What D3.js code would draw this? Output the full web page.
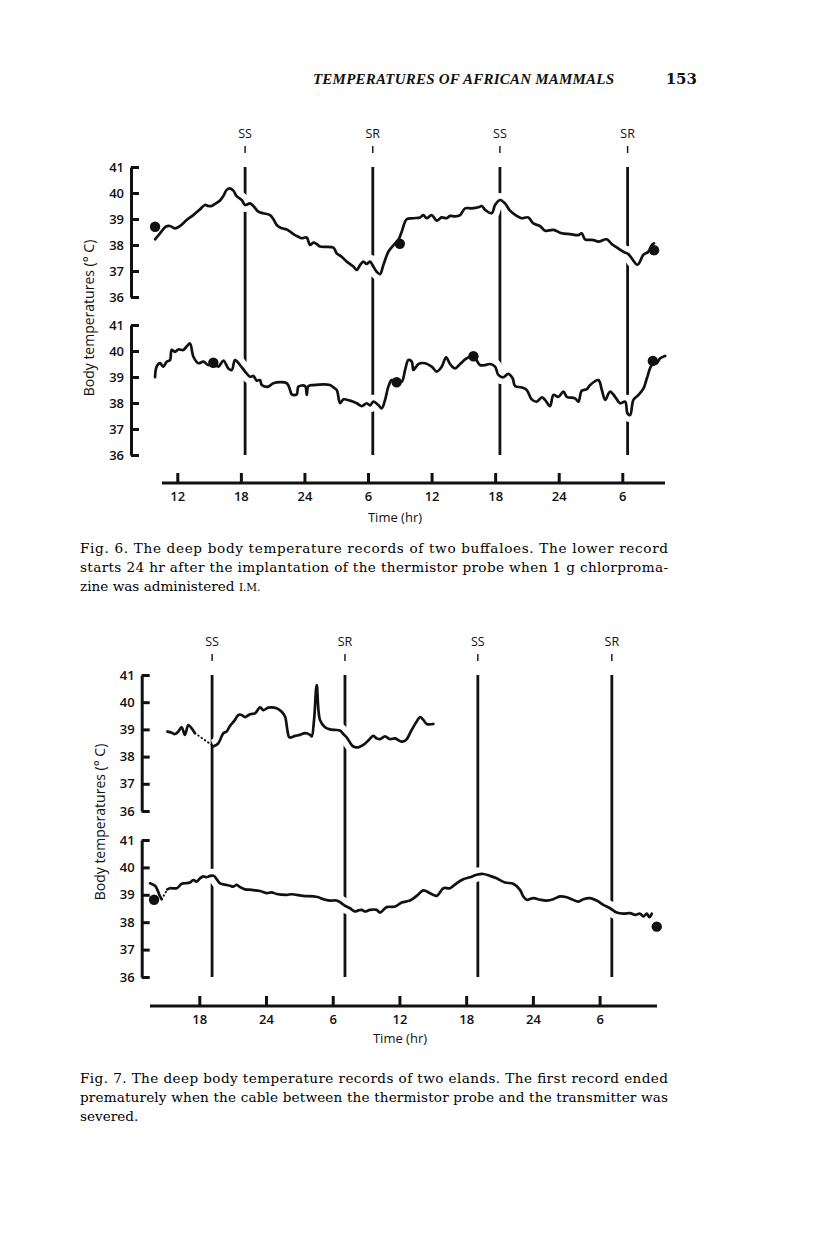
<!DOCTYPE html>
<html><head><meta charset="utf-8">
<script src="https://cdn.jsdelivr.net/npm/d3@7"></script>
<style>body{margin:0;background:#fff}svg{display:block}</style>
</head><body>
<svg id="c" width="816" height="1238"></svg>
<script>
// ---------------- data ----------------
const pageTitle = "TEMPERATURES OF AFRICAN MAMMALS";
const pageNumber = "153";
const tempTicks = [36, 37, 38, 39, 40, 41];
const yAxisTitle = "Body temperatures (° C)";
const xAxisTitle = "Time (hr)";

const fig6HourTicks = [12, 18, 24, 30, 36, 42, 48, 54];
const fig6HourLabels = ["12", "18", "24", "6", "12", "18", "24", "6"];
const fig7HourTicks = [18, 24, 30, 36, 42, 48, 54];
const fig7HourLabels = ["18", "24", "6", "12", "18", "24", "6"];

const fig6Sun = [["SS", 18.4], ["SR", 30.45], ["SS", 42.45], ["SR", 54.5]];
const fig7Sun = [["SS", 19.15], ["SR", 31.1], ["SS", 43.05], ["SR", 55.1]];

// Fig. 6 upper buffalo [hour, °C]
const fig6Upper = [[9.90,38.22],[10.37,38.45],[10.93,38.71],[11.31,38.73],[11.78,38.64],[12.25,38.73],[12.88,38.96],[13.51,39.15],[14.14,39.37],[14.61,39.54],[14.93,39.50],[15.24,39.50],[15.56,39.58],[16.03,39.71],[16.34,39.88],[16.66,40.12],[16.97,40.18],[17.29,40.09],[17.60,39.88],[18.08,39.73],[18.39,39.54],[18.86,39.60],[19.18,39.50],[19.65,39.28],[20.12,39.22],[20.75,39.15],[21.07,38.99],[21.38,38.77],[21.86,38.64],[22.33,38.60],[22.80,38.47],[23.11,38.38],[23.43,38.32],[23.74,38.26],[24.21,38.29],[24.53,38.00],[24.84,38.09],[25.15,38.04],[25.47,37.94],[26.73,37.90],[27.04,37.68],[27.51,37.55],[27.99,37.36],[28.62,37.17],[28.93,37.04],[29.25,37.23],[29.56,37.36],[29.87,37.27],[30.19,37.36],[30.50,37.17],[30.82,36.97],[31.13,36.88],[31.45,37.23],[31.92,37.74],[32.39,37.99],[32.86,38.19],[33.18,38.51],[33.65,38.99],[34.28,39.03],[34.91,39.06],[35.22,39.15],[35.54,39.03],[36.01,39.15],[36.48,38.94],[36.96,39.06],[37.43,39.03],[37.74,39.12],[38.22,39.10],[38.69,39.15],[39.16,39.41],[39.79,39.41],[40.42,39.45],[40.73,39.50],[41.05,39.35],[41.68,39.22],[41.99,39.54],[42.46,39.73],[42.93,39.60],[43.40,39.32],[44.03,39.12],[44.50,39.03],[45.13,39.06],[45.60,38.83],[46.23,38.73],[46.71,38.55],[47.49,38.58],[48.28,38.45],[49.07,38.42],[49.85,38.38],[50.17,38.45],[50.48,38.22],[51.27,38.19],[51.74,38.13],[52.53,38.22],[53.00,38.04],[53.47,37.91],[54.10,37.74],[54.57,37.65],[55.04,37.40],[55.42,37.23],[55.67,37.36],[55.98,37.62],[56.46,37.74],[56.77,37.99],[56.99,38.06]];
const fig6UpperDots = [[9.9,38.7],[33.0,38.05],[57.0,37.8]];

// Fig. 6 lower buffalo
const fig6Lower = [[9.90,38.99],[10.05,39.40],[10.37,39.53],[10.68,39.40],[11.00,39.59],[11.31,39.65],[11.47,40.04],[11.78,39.97],[12.10,40.06],[12.57,40.04],[12.88,40.17],[13.20,40.29],[13.52,39.78],[13.99,39.53],[14.46,39.59],[14.93,39.46],[15.40,39.53],[15.88,39.40],[16.35,39.63],[16.82,39.33],[17.14,39.27],[17.45,39.65],[17.92,39.46],[18.40,39.21],[18.87,39.01],[19.18,39.04],[19.50,38.86],[19.81,38.88],[19.97,38.69],[20.60,38.63],[21.07,38.76],[22.33,38.76],[22.64,38.50],[22.80,38.33],[23.27,38.33],[23.43,38.63],[24.06,38.65],[24.22,38.31],[24.37,38.65],[24.84,38.69],[26.41,38.69],[26.73,38.60],[27.05,38.50],[27.36,37.99],[27.68,38.14],[28.31,38.09],[28.94,37.99],[29.41,37.88],[29.88,37.99],[30.19,37.91],[30.51,38.05],[30.98,37.92],[31.29,37.79],[31.61,38.12],[31.92,38.63],[32.24,38.88],[32.70,38.80],[33.18,38.82],[33.50,39.27],[33.81,39.65],[34.13,39.59],[34.29,39.27],[34.76,39.50],[35.39,39.53],[36.01,39.40],[36.48,39.21],[36.96,39.40],[37.37,39.76],[37.74,39.50],[38.22,39.33],[38.69,39.50],[39.32,39.72],[39.94,39.81],[40.57,39.46],[41.05,39.46],[41.52,39.50],[41.99,39.40],[42.30,39.08],[42.77,38.99],[43.24,39.12],[43.65,38.95],[43.88,38.65],[44.51,38.60],[44.98,38.50],[45.45,38.14],[45.92,38.05],[46.40,38.22],[46.71,38.12],[47.18,37.88],[47.50,38.31],[47.97,38.24],[48.44,38.44],[48.76,38.24],[49.54,38.18],[49.86,38.05],[50.17,38.47],[50.65,38.53],[50.96,38.69],[51.75,38.88],[52.07,38.50],[52.38,38.12],[52.85,38.44],[53.32,38.24],[53.79,37.99],[54.27,38.05],[54.49,37.60],[54.74,37.54],[55.05,38.12],[55.53,38.31],[56.00,38.56],[56.32,38.95],[56.79,39.46],[57.26,39.53],[57.58,39.72],[58.05,39.81]];
const fig6LowerDots = [[15.40,39.55],[32.70,38.80],[39.95,39.80],[56.88,39.62]];

// Fig. 7 upper eland (record ended prematurely)
const fig7UpperA = [[15.13,38.92],[15.51,38.88],[15.81,38.83],[16.11,38.92],[16.41,39.08],[16.71,38.80],[17.01,39.16],[17.31,39.04],[17.61,38.86]];
const fig7UpperGap = [[17.61,38.86],[19.26,38.39]];
const fig7UpperB = [[19.30,38.38],[19.71,38.49],[20.16,38.86],[20.46,38.92],[20.76,39.13],[21.21,39.35],[21.51,39.53],[21.81,39.53],[22.11,39.45],[22.56,39.56],[23.01,39.59],[23.46,39.81],[23.76,39.71],[24.21,39.80],[24.96,39.78],[25.41,39.65],[25.71,39.47],[25.92,38.98],[26.10,38.71],[26.61,38.76],[27.06,38.80],[27.51,38.86],[27.96,38.80],[28.11,38.74],[28.32,39.35],[28.56,40.63],[28.85,39.35],[29.30,39.08],[29.75,39.00],[30.20,38.98],[30.65,38.96],[30.95,38.83],[31.25,38.71],[31.55,38.52],[31.85,38.37],[32.30,38.34],[32.75,38.43],[33.20,38.59],[33.65,38.76],[33.95,38.67],[34.25,38.64],[34.70,38.74],[35.15,38.64],[35.60,38.67],[36.20,38.55],[36.59,38.61],[37.10,38.98],[37.55,39.29],[37.85,39.45],[38.15,39.35],[38.45,39.20],[39.05,39.20]];

// Fig. 7 lower eland
const fig7LowerHook = [[13.57,39.42],[14.02,39.33],[14.23,39.18],[14.47,38.94],[14.62,38.84]];
const fig7LowerGap = [[14.62,38.84],[15.13,39.20]];
const fig7Lower = [[15.13,39.20],[15.37,39.24],[15.97,39.24],[16.42,39.40],[16.72,39.42],[17.16,39.45],[17.46,39.54],[17.76,39.48],[18.06,39.60],[18.36,39.67],[18.66,39.64],[18.96,39.69],[19.32,39.69],[19.56,39.57],[19.86,39.42],[20.46,39.36],[20.76,39.33],[21.06,39.30],[21.36,39.36],[21.66,39.28],[22.11,39.20],[22.71,39.18],[23.46,39.14],[24.06,39.06],[24.51,39.09],[24.96,39.03],[25.86,39.00],[26.31,39.02],[27.36,38.96],[28.26,38.94],[28.71,38.91],[29.16,38.84],[29.76,38.79],[30.35,38.79],[30.80,38.69],[31.10,38.60],[31.55,38.51],[32.00,38.39],[32.30,38.43],[32.60,38.45],[32.90,38.39],[33.35,38.45],[33.95,38.45],[34.25,38.35],[34.85,38.55],[35.60,38.57],[36.20,38.72],[36.95,38.79],[37.55,38.96],[38.15,39.16],[38.75,39.06],[39.35,38.96],[39.95,39.24],[40.55,39.24],[41.14,39.42],[41.74,39.57],[42.34,39.64],[42.94,39.73],[43.54,39.76],[44.14,39.69],[44.74,39.60],[45.49,39.45],[46.24,39.40],[46.84,39.18],[47.14,38.94],[47.44,38.82],[48.04,38.88],[48.64,38.82],[49.24,38.79],[49.84,38.84],[50.44,38.94],[51.04,38.91],[51.49,38.84],[52.09,38.75],[52.54,38.84],[53.14,38.88],[53.74,38.79],[54.34,38.63],[54.94,38.51],[55.54,38.35],[56.14,38.31],[56.74,38.33],[57.19,38.27],[57.64,38.31],[57.94,38.21],[58.24,38.31],[58.48,38.18],[58.69,38.31]];
const fig7LowerDots = [[13.93,38.82],[59.14,37.84]];

const fig6Caption = [
  "Fig. 6.  The deep body temperature records of two buffaloes. The lower record",
  "starts 24 hr after the implantation of the thermistor probe when 1 g chlorproma-",
  "zine was administered I.M."
];
const fig7Caption = [
  "Fig. 7.  The deep body temperature records of two elands. The first record ended",
  "prematurely when the cable between the thermistor probe and the transmitter was",
  "severed."
];

// ---------------- drawing ----------------
const svg = d3.select("#c");
svg.append("rect").attr("width", 816).attr("height", 1238).attr("fill", "#fff");
const INK = "#111";
const SANS = "'Open Sans', 'DejaVu Sans', sans-serif";
const SERIF = "'DejaVu Serif', 'Liberation Serif', serif";

// running head
svg.append("text").attr("x", 313).attr("y", 84)
  .attr("font-family", "'Liberation Serif', serif").attr("font-style", "italic").attr("font-weight", "bold")
  .attr("font-size", 15).attr("fill", INK)
  .attr("textLength", 301).attr("lengthAdjust", "spacing")
  .text(pageTitle);
svg.append("text").attr("x", 697).attr("y", 84).attr("text-anchor", "end")
  .attr("font-family", SERIF).attr("font-weight", "bold")
  .attr("font-size", 15).attr("fill", INK).text(pageNumber);

function drawFigure(cfg) {
  const g = svg.append("g");
  const x = d3.scaleLinear().domain(cfg.xDomain).range(cfg.xRange);
  const yU = d3.scaleLinear().domain([36, 41]).range(cfg.yUpper);
  const yL = d3.scaleLinear().domain([36, 41]).range(cfg.yLower);

  // sunset / sunrise labels and marker ticks
  cfg.sun.forEach(([lab, t]) => {
    g.append("text").attr("x", x(t)).attr("y", cfg.sunLabelY)
      .attr("text-anchor", "middle").attr("font-family", SANS)
      .attr("font-size", 12.5).attr("fill", INK).text(lab);
    g.append("line").attr("x1", x(t)).attr("x2", x(t))
      .attr("y1", cfg.sunLabelY + 8).attr("y2", cfg.sunLabelY + 15)
      .attr("stroke", INK).attr("stroke-width", 1.4);
    g.append("line").attr("x1", x(t)).attr("x2", x(t))
      .attr("y1", yU(41)).attr("y2", yL(36))
      .attr("stroke", INK).attr("stroke-width", 2.8);
  });

  const mkLine = y => d3.line().x(d => x(d[0])).y(d => y(d[1]))
    .curve(d3.curveCatmullRom.alpha(0.5));

  // white halos that interrupt the sun lines where records cross
  cfg.series.forEach(s => {
    if (s.dashed) return;
    g.append("path").attr("d", mkLine(s.panel === "U" ? yU : yL)(s.data))
      .attr("fill", "none").attr("stroke", "#fff").attr("stroke-width", 14)
      .attr("stroke-linejoin", "round");
  });

  // y axes (bracket style)
  [yU, yL].forEach(y => {
    const ax = g.append("g").attr("transform", `translate(${cfg.yAxisX},0)`)
      .call(d3.axisLeft(y).tickValues(tempTicks).tickFormat(d3.format("d"))
        .tickSizeInner(-8).tickSizeOuter(0).tickPadding(7));
    ax.select(".domain").attr("stroke", INK).attr("stroke-width", 3);
    ax.selectAll(".tick line").attr("stroke", INK).attr("stroke-width", 3);
    ax.selectAll(".tick text").attr("font-family", SANS).attr("font-weight", 600)
      .attr("font-size", 13).attr("fill", INK);
  });

  // x axis
  g.append("line").attr("x1", cfg.xAxisExtent[0]).attr("x2", cfg.xAxisExtent[1])
    .attr("y1", cfg.xAxisY).attr("y2", cfg.xAxisY).attr("stroke", INK).attr("stroke-width", 3);
  const xa = g.append("g").attr("transform", `translate(0,${cfg.xAxisY})`)
    .call(d3.axisBottom(x).tickValues(cfg.hourTicks).tickFormat((d, i) => cfg.hourLabels[i])
      .tickSizeInner(-10).tickSizeOuter(0).tickPadding(9));
  xa.select(".domain").remove();
  xa.selectAll(".tick line").attr("stroke", INK).attr("stroke-width", 3);
  xa.selectAll(".tick text").attr("font-family", SANS).attr("font-weight", 600)
    .attr("font-size", 13).attr("fill", INK);

  g.append("text").attr("x", cfg.xTitle[0]).attr("y", cfg.xTitle[1])
    .attr("text-anchor", "middle").attr("font-family", SANS).attr("font-size", 13)
    .attr("fill", INK).text(xAxisTitle);
  g.append("text").attr("transform", `translate(${cfg.yTitle[0]},${cfg.yTitle[1]}) rotate(-90)`)
    .attr("text-anchor", "middle").attr("font-family", SANS).attr("font-size", 14)
    .attr("fill", INK).text(yAxisTitle);

  // records
  cfg.series.forEach(s => {
    const p = g.append("path").attr("d", mkLine(s.panel === "U" ? yU : yL)(s.data))
      .attr("fill", "none").attr("stroke", INK)
      .attr("stroke-linejoin", "round").attr("stroke-linecap", "round");
    if (s.dashed) p.attr("stroke-width", 2).attr("stroke-dasharray", "0.5,3.5");
    else p.attr("stroke-width", 2.7);
  });
  cfg.dots.forEach(d => {
    d.data.forEach(p => {
      g.append("circle").attr("cx", x(p[0])).attr("cy", (d.panel === "U" ? yU : yL)(p[1]))
        .attr("r", 5.2).attr("fill", INK);
    });
  });

  // caption
  cfg.caption.forEach((line, i) => {
    const t = g.append("text").attr("x", 80).attr("y", cfg.captionY + i * 19)
      .attr("font-family", SERIF).attr("font-size", 13.6).attr("fill", "#000");
    if (i < 2) t.attr("textLength", 588).attr("lengthAdjust", "spacing");
    if (line.endsWith("I.M.")) {
      t.append("tspan").text(line.replace("I.M.", ""));
      t.append("tspan").attr("font-size", 10.5).text("I.M.");
    } else t.text(line);
  });
}

drawFigure({
  xDomain: [12, 54], xRange: [177.3, 622.3],
  yUpper: [297, 167], yLower: [455, 325],
  yAxisX: 131, xAxisY: 483, xAxisExtent: [162, 665],
  hourTicks: fig6HourTicks, hourLabels: fig6HourLabels,
  sun: fig6Sun, sunLabelY: 138,
  xTitle: [395, 522], yTitle: [94, 318],
  series: [
    { panel: "U", data: fig6Upper },
    { panel: "L", data: fig6Lower }
  ],
  dots: [{ panel: "U", data: fig6UpperDots }, { panel: "L", data: fig6LowerDots }],
  caption: fig6Caption, captionY: 553
});

drawFigure({
  xDomain: [18, 54], xRange: [199.3, 599.6],
  yUpper: [811, 675], yLower: [977, 840],
  yAxisX: 141.7, xAxisY: 1006, xAxisExtent: [150, 657],
  hourTicks: fig7HourTicks, hourLabels: fig7HourLabels,
  sun: fig7Sun, sunLabelY: 646,
  xTitle: [400, 1043], yTitle: [105, 822],
  series: [
    { panel: "U", data: fig7UpperA },
    { panel: "U", data: fig7UpperGap, dashed: true },
    { panel: "U", data: fig7UpperB },
    { panel: "L", data: fig7LowerHook },
    { panel: "L", data: fig7LowerGap, dashed: true },
    { panel: "L", data: fig7Lower }
  ],
  dots: [{ panel: "L", data: fig7LowerDots }],
  caption: fig7Caption, captionY: 1083
});
</script>
</body></html>
